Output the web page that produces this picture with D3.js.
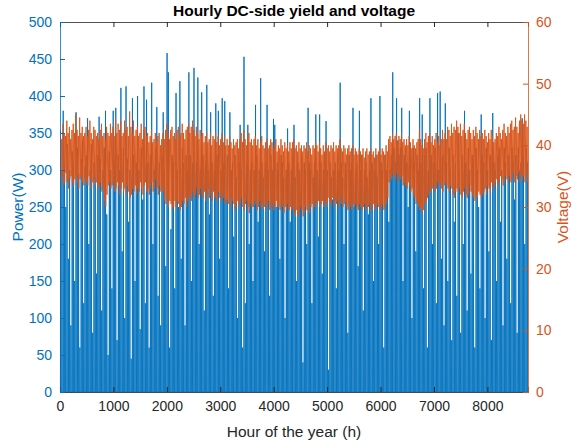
<!DOCTYPE html>
<html><head><meta charset="utf-8">
<script src="https://cdn.jsdelivr.net/npm/d3@7"></script>
<style>body{margin:0;background:#fff}svg{display:block}text{font-family:"Liberation Sans",Arial,sans-serif}</style>
</head><body>
<svg id="c" width="574" height="445"></svg>
<script>
// Daily peak DC power (W), one value per day of the year (day d spans hours 24d..24d+23)
const powerPeak = [
320,300,380,310,250,335,180,300,90,325,
310,150,378,330,295,60,315,340,120,305,
320,370,200,300,335,80,310,290,160,320,
372,315,110,300,330,380,240,50,325,300,
140,380,310,384,70,320,300,411,190,330,
100,413,315,230,300,45,397,320,150,310,
400,300,85,330,260,413,120,395,310,60,
320,418,200,300,330,385,130,310,90,320,
378,300,170,458,432,60,220,320,310,140,
404,300,250,420,180,330,310,90,320,300,
432,320,150,310,438,270,310,425,200,300,
405,320,110,310,415,300,240,378,310,130,
300,390,320,380,180,300,397,310,393,260,
320,140,378,300,310,210,320,290,100,310,
361,300,60,453,120,310,361,200,300,310,
150,300,388,320,230,300,424,310,290,190,
310,388,300,130,320,300,369,361,250,310,
300,180,320,310,290,100,300,356,310,230,
300,320,361,290,150,310,300,270,320,40,
310,300,200,384,310,300,120,290,310,375,
300,210,375,310,160,300,320,366,300,30,
310,290,260,300,310,140,320,300,418,310,
290,200,310,300,80,320,300,310,384,250,
300,310,170,380,300,320,110,300,310,290,
240,300,397,310,150,300,320,290,200,400,
310,300,60,320,300,310,230,300,320,432,
330,310,397,340,320,330,384,150,320,330,
310,250,380,320,100,330,310,190,320,300,
397,310,375,140,320,330,60,300,397,320,
200,310,330,120,404,300,406,180,320,90,
390,310,150,330,300,70,320,230,310,130,
350,300,80,320,200,380,310,110,330,300,
160,320,310,60,330,300,250,140,375,320,
310,100,330,300,190,320,70,377,310,300,
150,320,330,230,300,90,330,310,180,320,
300,120,330,310,260,320,80,330,300,310,
370,320,200,330,310
];
// Daily maximum DC voltage (V)
const voltMax = [
42.5,41.0,43.5,42.0,41.5,44.0,42.0,43.0,41.0,42.5,
43.5,42.0,45.0,42.5,41.5,44.5,42.0,43.0,41.5,42.0,
43.0,41.5,42.5,44.0,42.0,41.0,43.0,42.5,41.5,42.0,
41.0,42.5,43.5,41.5,42.0,41.0,43.0,42.0,41.5,43.5,
42.0,43.0,41.5,44.5,42.0,43.5,42.5,44.0,41.5,42.0,
44.0,42.5,43.0,41.5,45.5,43.0,42.0,44.0,41.5,42.5,
43.0,41.5,42.0,43.5,41.0,42.5,43.0,41.5,42.0,40.5,
41.5,42.5,40.5,41.0,42.0,40.5,41.5,42.0,40.0,41.0,
42.0,41.0,42.5,43.5,42.0,41.0,42.5,43.0,41.5,42.0,
41.0,42.5,43.0,41.5,42.0,43.5,42.0,41.0,42.5,43.0,
43.5,42.0,43.0,44.0,42.5,41.5,43.0,42.0,41.0,42.5,
41.5,42.0,40.5,41.5,42.0,40.5,41.0,42.0,40.0,41.5,
41.0,42.0,40.5,41.5,40.0,41.0,42.0,40.5,41.5,40.0,
41.0,40.0,41.5,40.5,39.5,41.0,40.0,40.5,41.0,39.5,
41.0,42.0,40.5,42.5,41.0,40.0,41.5,42.0,40.5,41.0,
40.0,41.0,41.5,40.0,41.0,39.5,40.5,41.5,40.0,39.5,
40.5,41.0,39.5,40.0,41.0,40.5,39.5,40.0,41.0,39.0,
40.0,39.5,41.0,40.0,39.0,40.5,39.5,40.0,39.0,40.5,
39.5,40.5,41.0,39.5,40.0,39.0,40.5,39.5,40.0,39.0,
40.0,39.5,40.5,39.0,40.0,39.5,38.5,40.0,39.5,40.5,
40.0,39.0,40.5,39.5,38.5,40.0,39.0,40.5,39.5,40.0,
39.0,40.0,39.5,40.5,39.0,40.0,39.5,40.0,41.0,39.5,
39.0,40.0,39.5,38.5,39.5,40.0,39.0,39.5,40.0,38.5,
39.5,39.0,38.5,39.5,39.0,38.5,39.5,38.0,39.0,39.5,
38.5,39.0,39.5,38.5,39.0,38.0,39.5,38.5,39.0,39.5,
38.5,39.5,39.0,38.5,40.0,39.0,41.0,41.5,40.5,42.0,
41.0,41.5,42.0,40.5,41.5,41.0,42.0,40.5,41.0,40.0,
41.0,40.0,41.5,40.5,39.5,41.0,40.0,39.5,40.5,41.0,
42.5,41.0,40.0,39.5,41.0,42.0,40.5,41.5,42.0,40.5,
41.5,40.0,41.0,42.0,40.5,41.5,40.0,41.0,42.5,41.0,
42.0,41.0,43.0,42.5,41.5,43.5,42.0,43.0,42.5,44.0,
43.0,42.0,43.5,41.5,42.5,43.5,42.0,41.0,42.5,43.0,
42.0,41.0,42.5,41.5,43.0,42.0,41.0,42.5,41.5,42.0,
41.0,42.5,41.5,40.5,42.0,41.0,42.5,41.5,40.5,41.0,
42.0,41.5,43.0,42.0,41.0,42.5,43.5,42.0,41.5,43.0,
42.0,43.5,44.0,42.5,43.0,44.5,43.0,42.0,44.0,45.0,
44.0,43.5,45.0,44.0,43.0
];
// Daily minimum DC voltage during production hours (V)
const voltMin = [
34.5,35.0,33.5,34.0,35.5,34.0,33.0,34.5,35.0,34.0,
33.5,34.5,35.0,34.0,33.0,34.5,35.0,34.0,33.5,34.5,
34.0,33.5,35.0,34.5,33.0,34.0,34.5,33.5,34.0,33.0,
33.5,34.0,32.5,33.0,31.0,30.0,32.0,33.5,34.0,33.0,
33.5,34.0,32.5,33.0,34.0,33.5,32.0,33.0,34.0,32.5,
33.0,32.0,33.5,32.5,31.5,32.0,33.0,32.5,33.5,32.0,
33.0,32.5,34.0,33.0,32.0,33.5,34.0,32.5,33.0,32.0,
33.0,34.0,32.5,33.0,34.5,33.0,32.0,33.5,32.5,33.0,
32.5,31.0,30.5,31.5,30.0,31.0,30.5,29.5,30.0,31.0,
30.0,31.0,30.5,29.5,30.0,31.0,30.5,31.5,30.0,31.0,
31.5,32.0,31.0,32.5,31.5,32.0,33.0,31.5,32.0,33.0,
32.0,31.5,32.5,31.0,32.0,33.0,31.5,32.0,31.0,32.5,
31.5,32.0,31.0,32.5,31.5,31.0,32.0,31.5,30.5,31.0,
31.0,30.5,31.5,30.0,31.0,30.5,29.5,30.5,31.0,30.0,
30.5,31.5,30.0,29.5,30.5,31.0,30.0,29.0,30.5,30.0,
30.0,31.0,30.5,29.5,30.0,31.0,30.0,30.5,29.5,30.0,
30.5,30.0,31.0,29.5,30.0,30.5,29.5,30.0,31.0,30.0,
30.0,29.5,30.5,30.0,29.0,30.0,29.5,30.5,29.5,30.0,
29.5,30.0,29.0,28.5,29.5,28.5,29.0,30.0,29.5,28.5,
29.0,30.0,29.5,30.5,29.0,30.0,30.5,29.5,30.0,31.0,
30.5,31.0,30.0,30.5,31.0,30.0,31.0,30.5,30.0,31.5,
31.0,30.5,31.5,30.0,31.0,30.5,31.0,30.0,31.5,30.5,
30.0,30.5,31.0,30.0,29.5,30.5,30.0,29.5,30.5,30.0,
30.5,30.0,29.5,30.5,30.0,29.5,30.0,30.5,29.5,30.0,
30.0,30.5,29.5,30.0,30.5,29.5,30.0,30.5,30.0,29.5,
30.0,30.5,29.5,30.0,30.5,31.5,34.0,35.0,34.5,35.5,
35.0,34.5,35.5,34.0,35.0,34.5,35.0,33.5,34.0,33.5,
33.0,34.0,33.5,32.5,33.0,32.0,31.5,30.5,31.0,30.0,
29.5,30.0,29.0,29.5,30.5,31.0,31.5,32.0,33.0,32.5,
33.0,33.5,32.5,33.0,34.0,33.5,34.0,33.0,32.5,33.5,
34.0,33.5,33.0,32.5,33.5,33.0,32.0,31.5,32.5,33.0,
32.5,33.0,32.0,31.5,32.5,33.0,32.0,31.5,32.0,33.5,
32.5,32.0,31.5,31.0,32.0,31.5,32.5,32.0,31.5,32.0,
32.5,33.0,32.0,33.5,33.0,32.5,34.0,33.5,33.0,34.0,
34.5,33.5,34.0,35.0,34.5,33.5,34.0,35.0,34.5,34.0,
35.0,34.0,34.5,35.5,34.0,35.0,34.5,35.5,34.0,35.0,
34.5,35.0,34.0,35.5,34.0
];
const xTicks = [0,1000,2000,3000,4000,5000,6000,7000,8000];
const yLeftTicks = [0,50,100,150,200,250,300,350,400,450,500];
const yRightTicks = [0,10,20,30,40,50,60];

const W=574,H=445, m={l:60,r:46,t:22,b:53};
const iw=W-m.l-m.r, ih=H-m.t-m.b;
const blue="#0072BD", orange="#D95319", dark="#262626";
const svg=d3.select("#c");
const x=d3.scaleLinear().domain([0,8760]).range([m.l,m.l+iw]);
const yL=d3.scaleLinear().domain([0,500]).range([m.t+ih,m.t]);
const yR=d3.scaleLinear().domain([0,60]).range([m.t+ih,m.t]);

// power: each day rises from night-time zero to its peak and falls back
const pPts=[];
powerPeak.forEach((p,d)=>{pPts.push([24*d+8,0],[24*d+12,p],[24*d+16,0]);});
const g=svg.append("g");
g.append("path").attr("d",d3.line().x(q=>x(q[0])).y(q=>yL(q[1]))(pPts))
 .attr("fill","none").attr("stroke",blue).attr("stroke-width",0.9);

const vPts=[];
voltMax.forEach((v,d)=>{vPts.push([24*d+8,v],[24*d+16,voltMin[d]]);});
g.append("path").attr("d",d3.line().x(q=>x(q[0])).y(q=>yR(q[1]))(vPts))
 .attr("fill","none").attr("stroke",orange).attr("stroke-width",0.9);

// axes
const fs=14;
const ax=svg.append("g").attr("transform",`translate(0,${m.t+ih})`)
 .call(d3.axisBottom(x).tickValues(xTicks).tickSize(-5).tickPadding(9).tickFormat(d3.format("d")));
ax.select(".domain").attr("stroke",dark);
ax.selectAll("line").attr("stroke",dark);
ax.selectAll("text").attr("fill",dark).style("font-size",fs+"px");
const at=svg.append("g").attr("transform",`translate(0,${m.t})`)
 .call(d3.axisTop(x).tickValues(xTicks).tickSize(-5).tickFormat(""));
at.select(".domain").attr("stroke",dark);
at.selectAll("line").attr("stroke",dark);

const al=svg.append("g").attr("transform",`translate(${m.l},0)`)
 .call(d3.axisLeft(yL).tickValues(yLeftTicks).tickSize(-5).tickPadding(8));
al.select(".domain").attr("stroke",blue);
al.selectAll("line").attr("stroke",blue);
al.selectAll("text").attr("fill",blue).style("font-size",fs+"px");

const ar=svg.append("g").attr("transform",`translate(${m.l+iw},0)`)
 .call(d3.axisRight(yR).tickValues(yRightTicks).tickSize(-5).tickPadding(8));
ar.select(".domain").attr("stroke",orange);
ar.selectAll("line").attr("stroke",orange);
ar.selectAll("text").attr("fill",orange).style("font-size",fs+"px");

svg.selectAll(".domain").attr("stroke-width",0.8);

svg.append("text").attr("x",m.l+iw/2).attr("y",16).attr("text-anchor","middle")
 .style("font-size","15.5px").style("font-weight","bold").attr("fill","#000")
 .text("Hourly DC-side yield and voltage");
svg.append("text").attr("x",m.l+iw/2).attr("y",437).attr("text-anchor","middle")
 .style("font-size","15.5px").attr("fill",dark).text("Hour of the year (h)");
svg.append("text").attr("transform",`translate(23,${m.t+ih/2}) rotate(-90)`).attr("text-anchor","middle")
 .style("font-size","15.5px").attr("fill",blue).text("Power(W)");
svg.append("text").attr("transform",`translate(568,${m.t+ih/2}) rotate(-90)`).attr("text-anchor","middle")
 .style("font-size","15.5px").attr("fill",orange).text("Voltage(V)");
</script>
</body></html>
